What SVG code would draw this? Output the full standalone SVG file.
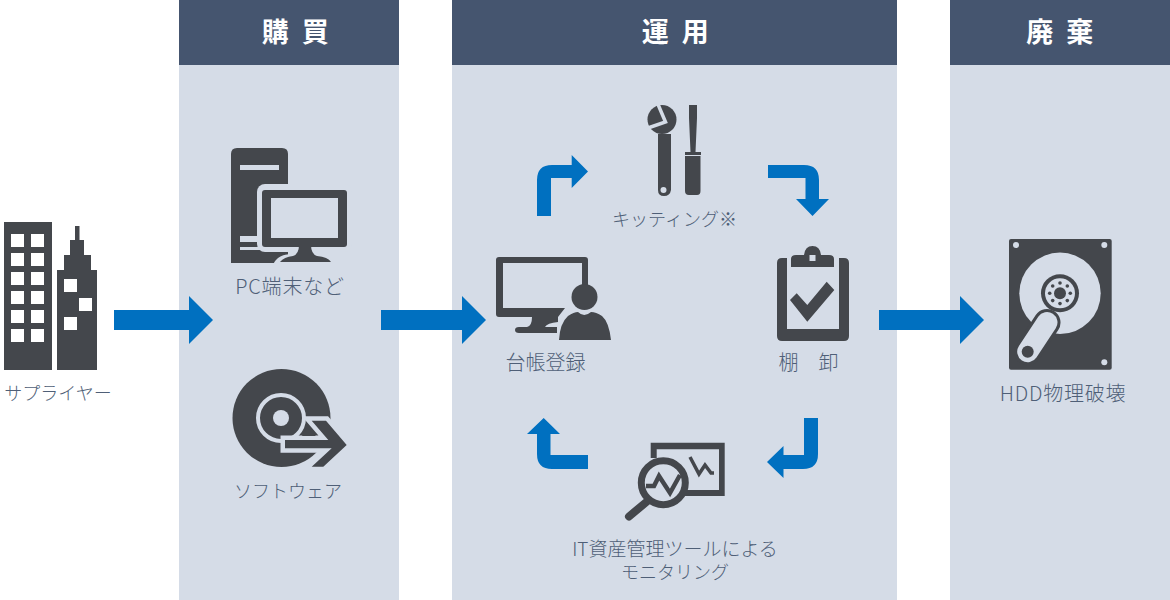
<svg xmlns="http://www.w3.org/2000/svg" width="1170" height="600" viewBox="0 0 1170 600">
<style>
.panel{fill:#d5dce7}
.head{fill:#45556f}
.d{fill:#44474c}
.l{fill:#d5dce7}
.w{fill:#fff}
.ar{fill:#0070c0}
text{font-family:"Noto Sans CJK JP","Noto Sans",sans-serif}
.t{fill:#4f5f77;font-size:18px;font-weight:300;text-anchor:middle}
.b{font-size:20px}
.h{fill:#fff;font-size:27px;font-weight:700;text-anchor:middle;letter-spacing:3.5px}
</style>
<g id="panels">
<rect class="panel" x="179" y="0" width="220" height="600"/>
<rect class="panel" x="452" y="0" width="445" height="600"/>
<rect class="panel" x="950" y="0" width="220" height="600"/>
<rect class="head" x="179" y="0" width="220" height="65"/>
<rect class="head" x="452" y="0" width="445" height="65"/>
<rect class="head" x="950" y="0" width="220" height="65"/>
<text class="h" x="297" y="42">購 買</text>
<text class="h" x="677" y="42">運 用</text>
<text class="h" x="1061.500" y="42">廃 棄</text>
</g>
<g id="connectors">
<path class="ar" d="M114 310H189V296L213 320L189 344V330H114Z"/>
<path class="ar" d="M381 310H462V296L486 320L462 344V330H381Z"/>
<path class="ar" d="M879 310H960V296L984 320L960 344V330H879Z"/>
<path class="ar" d="M537 216V180Q537 165 552 165H571.700V155L588 171.500L571.700 188V178H551V216Z"/>
<path class="ar" d="M768 165H804Q819 165 819 180V199H829L812.500 216L796 199H805.500V178H768Z"/>
<path class="ar" d="M818 418V454Q818 469 803 469H783.500V478L767 462L783.500 446V455H804V418Z"/>
<path class="ar" d="M588 469H552Q537 469 537 454V434H527L543.700 418L560 434H550.500V455H588Z"/>
</g>
<g id="supplier">
<rect class="d" x="4" y="222" width="48" height="148"/>
<path class="d" d="M57 370V270H64V255H70V240H75V226H79.500V240H84V255H91V270H97V370Z"/>
<g class="w">
<rect x="11" y="234" width="13" height="13"/><rect x="31" y="234" width="13" height="13"/>
<rect x="11" y="253" width="13" height="13"/><rect x="31" y="253" width="13" height="13"/>
<rect x="11" y="272" width="13" height="13"/><rect x="31" y="272" width="13" height="13"/>
<rect x="11" y="291" width="13" height="13"/><rect x="31" y="291" width="13" height="13"/>
<rect x="11" y="310" width="13" height="13"/><rect x="31" y="310" width="13" height="13"/>
<rect x="11" y="329" width="13" height="13"/><rect x="31" y="329" width="13" height="13"/>
<rect x="64" y="279" width="13" height="13"/><rect x="79" y="298" width="13" height="13"/><rect x="64" y="317" width="13" height="13"/>
</g>
<text class="t" x="58" y="400">サプライヤー</text>
</g>
<g id="pc">
<path class="d" d="M231 263V154Q231 148 237 148H282Q288 148 288 154V263Z"/>
<rect class="l" x="240" y="165" width="39" height="5"/>
<rect class="l" x="240" y="236" width="39" height="6"/>
<rect class="l" x="240" y="247" width="39" height="3"/>
<rect class="l" x="257" y="184" width="95" height="68" rx="8"/>
<path class="l" d="M272 268Q275 255 290 254H350V268Z"/>
<rect class="d" x="262" y="190" width="85" height="57" rx="3"/>
<rect class="l" x="271" y="198" width="67" height="40"/>
<path class="d" d="M299 245H311Q311 254 317 256Q328 257 331 262H280Q284 257 293 256Q299 254 299 245Z"/>
<text class="t b" x="290" y="294" style="letter-spacing:.8px">PC端末など</text>
</g>
<g id="software">
<circle class="d" cx="281.500" cy="418" r="49"/>
<circle class="d" cx="281" cy="418" r="23" stroke="#d5dce7" stroke-width="4"/>
<circle class="l" cx="281" cy="418" r="8"/>
<path class="l" stroke="#d5dce7" stroke-width="9" d="M311.700 420.700H326L346.700 445L323.300 466.700H311.700L331.700 448.300H285V440H328.300Z"/>
<path class="d" d="M311.700 420.700H326L346.700 445L323.300 466.700H311.700L331.700 448.300H285V440H328.300Z"/>
<path class="d" d="M302 436L306.500 427.500L316 436Z"/>
<text class="t" x="288" y="498">ソフトウェア</text>
</g>
<g id="ledger">
<path class="d" d="M496 260Q496 257 499 257H585Q588 257 588 260V285H582V263H503V308H565L558 317H499Q496 317 496 314Z"/>
<path class="d" d="M532 317H558V322Q547 323 545 327H557V333H519Q515 333 515 330Q515 327 519 327H527Q532 326 532 317Z"/>
<circle class="d" cx="584.500" cy="297" r="13"/>
<path class="d" d="M559 340Q560 323 568 316Q574 312 578 312Q584 318 591 312Q596 312 602 316Q609 322 611 340Z"/>
<text class="t b" x="545.500" y="370">台帳登録</text>
</g>
<g id="kitting">
<circle class="d" cx="662" cy="119.500" r="14.500"/>
<path class="d" d="M648 128L658 134H671V190Q670 196 664 196Q658 196 658 190V134Z"/>
<polyline points="657,102 665.500,122 645,129" fill="none" stroke="#d5dce7" stroke-width="3.500"/>
<circle class="l" cx="663.500" cy="190" r="3"/>
<path class="d" d="M689 105H697V118L695.500 152H701V155H700.500V191Q700.500 195 697 195H689Q685 195 685 191V155H685V152H690.500L689 118Z"/>
<rect class="l" x="685" y="155" width="16" height="1"/>
<text class="t" x="674.500" y="226">キッティング※</text>
</g>
<g id="inventory">
<path class="d" d="M781 258H787V329H839V258H844Q849 258 849 263V336Q849 341 844 341H782Q777 341 777 336V263Q777 258 782 258Z"/>
<path class="d" d="M791 267V259Q791 255 796 255H804Q805 246 812.500 246Q820 246 821 255H829Q834 255 834 259V267Z"/>
<rect class="l" x="809.500" y="255" width="6" height="6"/>
<path class="d" d="M790 300L796.700 293.300L807.300 305L826.700 281.700L834.300 290L807.300 321.700Z"/>
<text class="t b" x="808.500" y="370">棚　卸</text>
</g>
<g id="monitoring">
<path class="d" d="M650.700 442.700H724.700V496H680V490H719V449.300H656.700V458H650.700Z"/>
<polyline points="690,457 699,474 705,465 711,473 714,473" fill="none" stroke="#44474c" stroke-width="3.500"/>
<path d="M646.700 501.700L629 516.500" stroke="#44474c" stroke-width="8" stroke-linecap="round" fill="none"/>
<circle cx="663.300" cy="482.700" r="22" fill="#d5dce7" stroke="#44474c" stroke-width="7"/>
<polyline points="646,486 654,486 659,476 670,493 680,475" fill="none" stroke="#44474c" stroke-width="4.500"/>
<text class="t" text-anchor="middle" style="font-size:19px"><tspan x="675" y="556">IT資産管理ツールによる</tspan><tspan x="675" y="579" style="font-size:18px">モニタリング</tspan></text>
</g>
<g id="hdd">
<rect class="d" x="1009" y="239" width="102.700" height="130.700" rx="2"/>
<circle class="l" cx="1016" cy="245" r="3"/><circle class="l" cx="1104.300" cy="245" r="3"/><circle class="l" cx="1104.300" cy="362.300" r="3"/>
<circle class="l" cx="1060" cy="293.300" r="40.700"/>
<circle class="d" cx="1060" cy="293.300" r="19"/>
<circle class="l" cx="1060" cy="293.300" r="15"/>
<circle class="d" cx="1060" cy="293.300" r="6"/>
<g class="d">
<circle cx="1060" cy="283" r="1.800"/><circle cx="1060" cy="303.600" r="1.800"/><circle cx="1049.700" cy="293.300" r="1.800"/><circle cx="1070.300" cy="293.300" r="1.800"/>
<circle cx="1052.700" cy="286" r="1.800"/><circle cx="1067.300" cy="286" r="1.800"/><circle cx="1052.700" cy="300.600" r="1.800"/><circle cx="1067.300" cy="300.600" r="1.800"/>
</g>
<path d="M1047 322.500L1027.700 351.700" stroke="#44474c" stroke-width="27" stroke-linecap="round" fill="none"/>
<path d="M1047 322.500L1027.700 351.700" stroke="#d5dce7" stroke-width="21" stroke-linecap="round" fill="none"/>
<circle class="d" cx="1027.700" cy="351.700" r="6"/>
<text class="t b" x="1063" y="401" style="letter-spacing:.8px">HDD物理破壊</text>
</g>
</svg>
